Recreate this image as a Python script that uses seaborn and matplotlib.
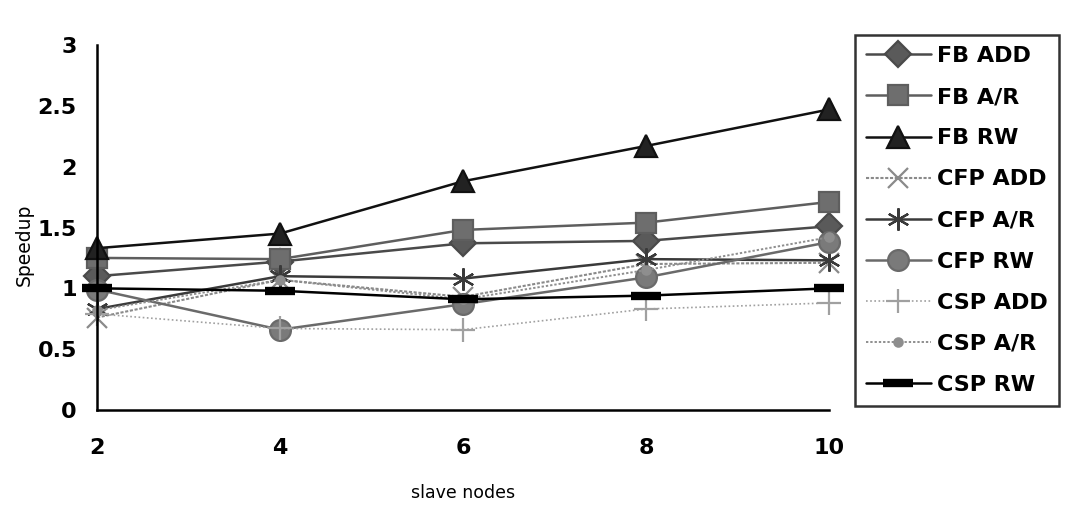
import matplotlib
matplotlib.use("Agg")
import matplotlib.pyplot as plt
import seaborn as sns
import pandas as pd

nodes = [2, 4, 6, 8, 10]
series_names = ["FB ADD", "FB A/R", "FB RW", "CFP ADD", "CFP A/R", "CFP RW",
                "CSP ADD", "CSP A/R", "CSP RW"]
fb_add = [1.10, 1.22, 1.37, 1.39, 1.51]
fb_ar = [1.25, 1.24, 1.48, 1.54, 1.71]
fb_rw = [1.33, 1.45, 1.88, 2.17, 2.47]
cfp_add = [0.76, 1.07, 0.93, 1.20, 1.21]
cfp_ar = [0.83, 1.10, 1.08, 1.24, 1.23]
cfp_rw = [0.99, 0.66, 0.87, 1.09, 1.38]
csp_add = [0.79, 0.67, 0.66, 0.83, 0.88]
csp_ar = [0.82, 1.07, 0.91, 1.15, 1.42]
csp_rw = [1.00, 0.98, 0.91, 0.94, 1.00]
values = [fb_add, fb_ar, fb_rw, cfp_add, cfp_ar, cfp_rw, csp_add, csp_ar, csp_rw]
y_ticks = [0, 0.5, 1, 1.5, 2, 2.5, 3]
y_tick_labels = ["0", "0.5", "1", "1.5", "2", "2.5", "3"]

styles = {
    "FB ADD":  dict(color="#4a4a4a", marker="D", ms=13, lw=1.8, ls="-", mfc="#5a5a5a"),
    "FB A/R":  dict(color="#5e5e5e", marker="s", ms=15, lw=1.8, ls="-", mfc="#6e6e6e"),
    "FB RW":   dict(color="#111111", marker="^", ms=16, lw=1.8, ls="-", mfc="#222222"),
    "CFP ADD": dict(color="#8a8a8a", marker="x", ms=15, lw=1.5, ls=(0, (1.5, 0.8)), mfc="none"),
    "CFP A/R": dict(color="#3a3a3a", marker=(6, 2, 0), ms=16, lw=1.8, ls="-", mfc="none"),
    "CFP RW":  dict(color="#6a6a6a", marker="o", ms=15, lw=1.8, ls="-", mfc="#7a7a7a"),
    "CSP ADD": dict(color="#a0a0a0", marker="+", ms=17, lw=1.2, ls=(0, (1, 1.5)), mfc="none"),
    "CSP A/R": dict(color="#8e8e8e", marker="o", ms=6, lw=1.4, ls=(0, (1.2, 1)), mfc="#8e8e8e"),
    "CSP RW":  dict(color="#000000", marker="_", ms=22, lw=1.8, ls="-", mfc="#000000"),
}

sns.set_style("white")
plt.rcParams["font.family"] = ["DejaVu Sans"]
plt.rcParams["text.color"] = "black"
plt.rcParams["axes.labelcolor"] = "black"
plt.rcParams["xtick.color"] = "black"
plt.rcParams["ytick.color"] = "black"

fig = plt.figure(figsize=(10.70, 5.11), dpi=100)
ax = fig.add_axes([97 / 1070, 1 - 410 / 511, (829 - 97) / 1070, (410 - 45) / 511])

for name, vals in zip(series_names, values):
    st = styles[name]
    df = pd.DataFrame({"nodes": nodes, "speedup": vals})
    sns.lineplot(data=df, x="nodes", y="speedup", ax=ax, color=st["color"],
                 marker=st["marker"], markersize=st["ms"], linewidth=st["lw"],
                 linestyle=st["ls"], markerfacecolor=st["mfc"],
                 markeredgecolor=st["color"],
                 markeredgewidth=(6 if name == "CSP RW" else 1.6),
                 label=name, clip_on=False)

ax.set_xlim(2, 10)
ax.set_ylim(0, 3)
ax.set_xticks(nodes)
ax.set_xticklabels([str(n) for n in nodes], fontsize=16, fontweight="bold", color="black")
ax.set_yticks(y_ticks)
ax.set_yticklabels(y_tick_labels, fontsize=16, fontweight="bold", color="black")
ax.tick_params(axis="both", direction="inout", length=11, width=1.5, colors="black")
ax.tick_params(axis="x", pad=15)
ax.tick_params(axis="y", pad=9)
for s in ["top", "right"]:
    ax.spines[s].set_visible(False)
for s in ["left", "bottom"]:
    ax.spines[s].set_linewidth(1.8)
    ax.spines[s].set_color("black")
ax.set_xlabel("slave nodes", fontsize=12.5, color="black")
ax.set_ylabel("Speedup", fontsize=13.5, color="black")
ax.xaxis.set_label_coords(0.5, (410 - 484) / 365)
ax.yaxis.set_label_coords((34 - 97) / 732, (410 - 245) / 365)

handles, labels = ax.get_legend_handles_labels()
if ax.get_legend():
    ax.get_legend().remove()
leg = fig.legend(handles, labels, loc="upper left",
                 bbox_to_anchor=(855 / 1070, 1 - 35 / 511),
                 frameon=True, fancybox=False, handlelength=2.9,
                 labelspacing=0.95, borderpad=0.5, borderaxespad=0,
                 handletextpad=0.3, markerscale=1.0,
                 prop={"size": 16, "weight": "bold"})
for t in leg.get_texts():
    t.set_color("black")
leg.get_frame().set_edgecolor("black")
leg.get_frame().set_linewidth(1.8)

fig.savefig("out.png", dpi=100)
